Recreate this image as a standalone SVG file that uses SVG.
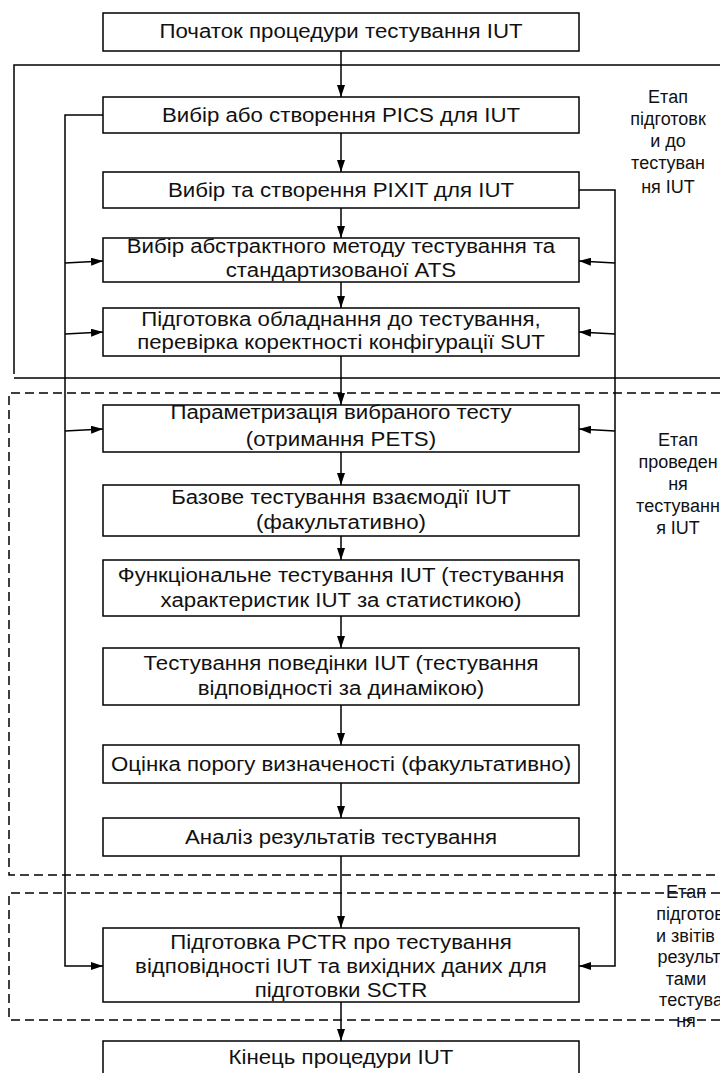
<svg xmlns="http://www.w3.org/2000/svg" width="720" height="1073" viewBox="0 0 720 1073">
  <defs>
    <marker id="arr" viewBox="0 0 12 8" refX="12" refY="4" markerWidth="12" markerHeight="8" markerUnits="userSpaceOnUse" orient="auto">
      <path d="M0,0 L12,4 L0,8 z" fill="#000"/>
    </marker>
    <style>
      .box { fill: #fff; stroke: #000; stroke-width: 1.5; }
      .t { font-family: "Liberation Sans", Arial, sans-serif; font-size: 21px; fill: #111; text-anchor: middle; transform-origin: 341px 0; transform: scaleX(1.06); }
      .lab { font-family: "Liberation Sans", Arial, sans-serif; font-size: 18px; fill: #111; text-anchor: middle; }
      .ln { fill: none; stroke: #000; stroke-width: 1.5; }
      .dash { fill: none; stroke: #000; stroke-width: 1.5; stroke-dasharray: 9 5; }
      .arr { fill: none; stroke: #000; stroke-width: 1.5; marker-end: url(#arr); }
    </style>
  </defs>
  <rect width="720" height="1073" fill="#fff"/>

  <!-- stage frames -->
  <g id="stages">
    <path class="ln" d="M720,65 H14 V374 M14,378 H720"/>
    <path class="dash" d="M720,393 H9 V875 H720"/>
    <path class="dash" d="M720,893 H9 V1020 H720"/>
  </g>

  <!-- connectors -->
  <g id="connectors">
    <line class="arr" x1="341" y1="51" x2="341" y2="97"/>
    <line class="arr" x1="341" y1="133" x2="341" y2="172"/>
    <line class="arr" x1="341" y1="208" x2="341" y2="238"/>
    <line class="arr" x1="341" y1="282" x2="341" y2="308"/>
    <line class="arr" x1="341" y1="356" x2="341" y2="405"/>
    <line class="arr" x1="341" y1="452" x2="341" y2="485"/>
    <line class="arr" x1="341" y1="536" x2="341" y2="560"/>
    <line class="arr" x1="341" y1="616" x2="341" y2="648"/>
    <line class="arr" x1="341" y1="705" x2="341" y2="745"/>
    <line class="arr" x1="341" y1="783" x2="341" y2="818"/>
    <line class="arr" x1="341" y1="856" x2="341" y2="928"/>
    <line class="arr" x1="341" y1="1002" x2="341" y2="1041"/>
    <!-- left feedback bus -->
    <path class="arr" d="M103,115 H65 V966 H103"/>
    <line class="arr" x1="65" y1="263" x2="103" y2="261"/>
    <line class="arr" x1="65" y1="334" x2="103" y2="332"/>
    <line class="arr" x1="65" y1="431" x2="103" y2="429"/>
    <!-- right feedback bus -->
    <path class="arr" d="M579,190 H615 V966 H579"/>
    <line class="arr" x1="615" y1="263" x2="579" y2="261"/>
    <line class="arr" x1="615" y1="334" x2="579" y2="332"/>
    <line class="arr" x1="615" y1="431" x2="579" y2="429"/>
  </g>

  <g id="n-start">
    <rect class="box" x="103" y="13" width="476" height="38"/>
    <text class="t" x="341" y="38">Початок процедури тестування IUT</text>
  </g>
  <g id="n-pics">
    <rect class="box" x="103" y="97" width="476" height="36"/>
    <text class="t" x="341" y="122">Вибір або створення PICS для IUT</text>
  </g>
  <g id="n-pixit">
    <rect class="box" x="103" y="172" width="476" height="36"/>
    <text class="t" x="341" y="197">Вибір та створення PIXIT для IUT</text>
  </g>
  <g id="n-ats">
    <rect class="box" x="103" y="238" width="476" height="44"/>
    <text class="t" x="341" y="253">Вибір абстрактного методу тестування та</text>
    <text class="t" x="341" y="277">стандартизованої ATS</text>
  </g>
  <g id="n-equip">
    <rect class="box" x="103" y="308" width="476" height="48"/>
    <text class="t" x="341" y="326">Підготовка обладнання до тестування,</text>
    <text class="t" x="341" y="349">перевірка коректності конфігурації SUT</text>
  </g>
  <g id="n-param">
    <rect class="box" x="103" y="405" width="476" height="47"/>
    <text class="t" x="341" y="419">Параметризація вибраного тесту</text>
    <text class="t" x="341" y="446">(отримання PETS)</text>
  </g>
  <g id="n-basic">
    <rect class="box" x="103" y="485" width="476" height="51"/>
    <text class="t" x="341" y="504">Базове тестування взаємодії IUT</text>
    <text class="t" x="341" y="529">(факультативно)</text>
  </g>
  <g id="n-func">
    <rect class="box" x="103" y="560" width="476" height="56"/>
    <text class="t" x="341" y="582">Функціональне тестування IUT (тестування</text>
    <text class="t" x="341" y="607">характеристик IUT за статистикою)</text>
  </g>
  <g id="n-behav">
    <rect class="box" x="103" y="648" width="476" height="57"/>
    <text class="t" x="341" y="670">Тестування поведінки IUT (тестування</text>
    <text class="t" x="341" y="695">відповідності за динамікою)</text>
  </g>
  <g id="n-thresh">
    <rect class="box" x="103" y="745" width="476" height="38"/>
    <text class="t" x="341" y="771">Оцінка порогу визначеності (факультативно)</text>
  </g>
  <g id="n-analysis">
    <rect class="box" x="103" y="818" width="476" height="38"/>
    <text class="t" x="341" y="844">Аналіз результатів тестування</text>
  </g>
  <g id="n-pctr">
    <rect class="box" x="103" y="928" width="476" height="74"/>
    <text class="t" x="341" y="949">Підготовка PCTR про тестування</text>
    <text class="t" x="341" y="973">відповідності IUT та вихідних даних для</text>
    <text class="t" x="341" y="997">підготовки SCTR</text>
  </g>
  <g id="n-end">
    <rect class="box" x="103" y="1041" width="476" height="40"/>
    <text class="t" x="341" y="1064">Кінець процедури IUT</text>
  </g>

  <!-- stage captions -->
  <g id="cap-prep">
    <text class="lab" x="668" y="103">Етап</text>
    <text class="lab" x="668" y="125">підготовк</text>
    <text class="lab" x="668" y="147">и до</text>
    <text class="lab" x="668" y="169">тестуван</text>
    <text class="lab" x="668" y="193">ня IUT</text>
  </g>
  <g id="cap-run">
    <text class="lab" x="678" y="446">Етап</text>
    <text class="lab" x="678" y="468">проведен</text>
    <text class="lab" x="678" y="490">ня</text>
    <text class="lab" x="678" y="512">тестуванн</text>
    <text class="lab" x="678" y="534">я IUT</text>
  </g>
  <g id="cap-report">
    <text class="lab" x="686" y="898">Етап</text>
    <text class="lab" x="694" y="920">підготовк</text>
    <text class="lab" x="694" y="942">и звітів із</text>
    <text class="lab" x="694" y="963">результа</text>
    <text class="lab" x="686" y="985">тами</text>
    <text class="lab" x="696" y="1006">тестуван</text>
    <text class="lab" x="686" y="1027">ня</text>
  </g>
</svg>
